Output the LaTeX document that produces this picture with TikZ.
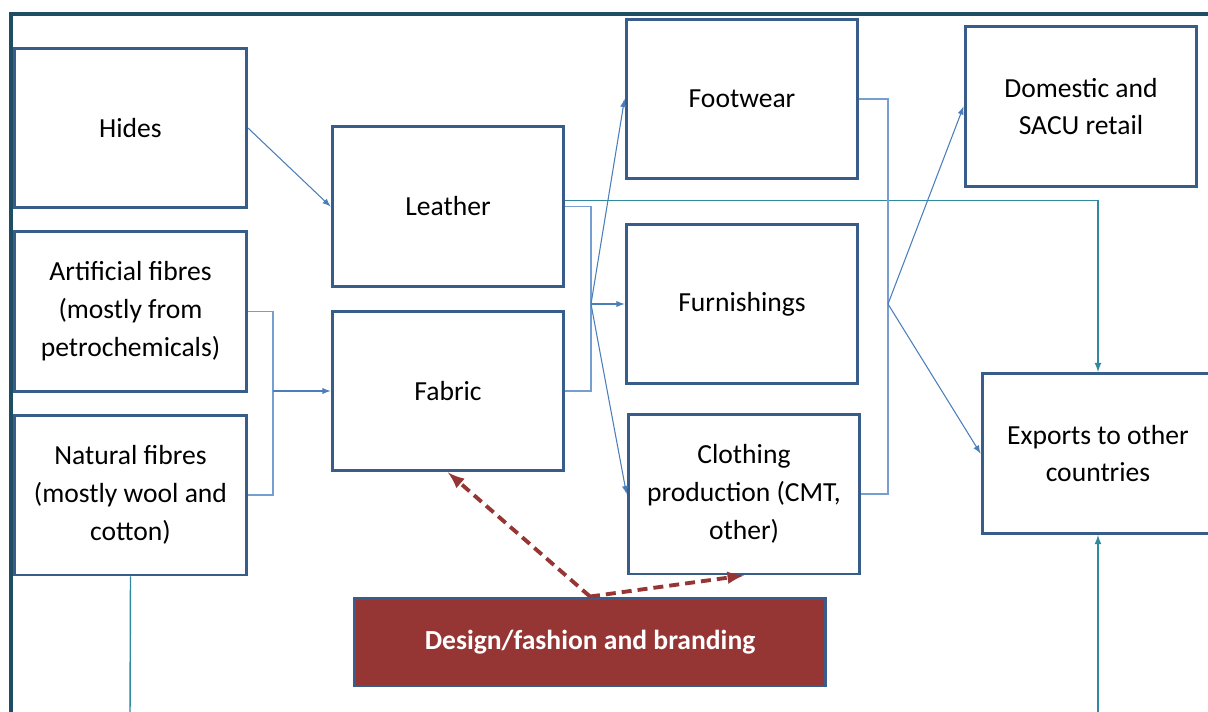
\documentclass[tikz,border=0pt]{standalone}
\usepackage{fontspec}
\setmainfont{Carlito}
\usepackage{tikz}
\usetikzlibrary{arrows,calc,positioning}
\definecolor{boxline}{RGB}{56,93,138}
\definecolor{frameline}{RGB}{31,77,99}
\definecolor{linkline}{RGB}{74,126,187}
\definecolor{bracketline}{RGB}{118,158,208}
\definecolor{tealline}{RGB}{49,137,160}
\definecolor{wine}{RGB}{150,54,52}
\tikzstyle{stage} = [rectangle, draw=boxline, line width=1.7pt, fill=white,
minimum width=4.64cm, minimum height=3.2cm, align=center,
font=\fontsize{15.7}{21.6}\selectfont]
\tikzstyle{brand} = [stage, fill=wine, text=white,
minimum width=9.44cm, minimum height=1.76cm,
font=\fontsize{15.7}{21.6}\selectfont\bfseries]
\tikzstyle{link} = [-latex, draw=linkline, line width=0.6pt]
\tikzstyle{bracket} = [draw=bracketline, line width=0.6pt]
\tikzstyle{export} = [draw=tealline, line width=0.8pt]
\tikzstyle{influence} = [-latex, draw=wine, line width=2.2pt, dash pattern=on 0.2cm off 0.12cm]

\begin{document}
\begin{tikzpicture}[x=0.02cm,y=-0.02cm]
\useasboundingbox (0,0) rectangle (1208,711);
% outer frame
\draw[frameline, line width=2.6pt] (1220,14) -- (11,14) -- (11,720);
% inputs
\node[stage] (hides) at (130.5,128) {Hides};
\node[stage] (artif) at (130.5,311.5) {Artificial fibres\\(mostly from\\petrochemicals)};
\node[stage] (natural) at (130.5,495) {Natural fibres\\(mostly wool and\\cotton)};
% materials
\node[stage] (leather) at (448,206.5) {Leather};
\node[stage] (fabric) at (448,391) {Fabric};
% products
\node[stage] (footwear) at (742,99) {Footwear};
\node[stage] (furnish) at (742,304) {Furnishings};
\node[stage] (clothing) at (744,494) {Clothing\\production (CMT,\\other)};
% markets
\node[stage] (domestic) at (1081,106.5) {Domestic and\\SACU retail};
\node[stage] (exports) at (1098,453.5) {Exports to other\\countries};
\node[brand] (design) at (590,642) {Design/fashion and branding};
% junctions
\coordinate (fibj) at (273,391);
\coordinate (matj) at (591,304);
\coordinate (prodj) at (888,304);
\coordinate (natout) at (130,720);
\coordinate (expin) at (1098,720);
% hides to leather
\draw[link] (hides.east) -- (leather.west);
% fibres to fabric
\draw[bracket] (artif.east) -| (fibj) |- (natural.east);
\draw[link] (fibj) -- (fabric.west);
% leather and fabric to products
\draw[bracket] (leather.east) -| (matj) |- (fabric.east);
\draw[link] (matj) -- (footwear.west);
\draw[link] (matj) -- (furnish.west);
\draw[link] (matj) -- (clothing.west);
\draw[export, -latex] ([yshift=0.12cm]leather.east) -| (exports.north);
% products to markets
\draw[bracket] (footwear.east) -| (prodj) |- (clothing.east);
\draw[link] (prodj) -- (domestic.west);
\draw[link] (prodj) -- (exports.west);
\draw[export] (natural.south) -- (natout);
\draw[export, -latex] (expin) -- (exports.south);
% design
\draw[influence] (design.north) -- (fabric.south);
\draw[influence] (design.north) -- (clothing.south);
\end{tikzpicture}
\end{document}
